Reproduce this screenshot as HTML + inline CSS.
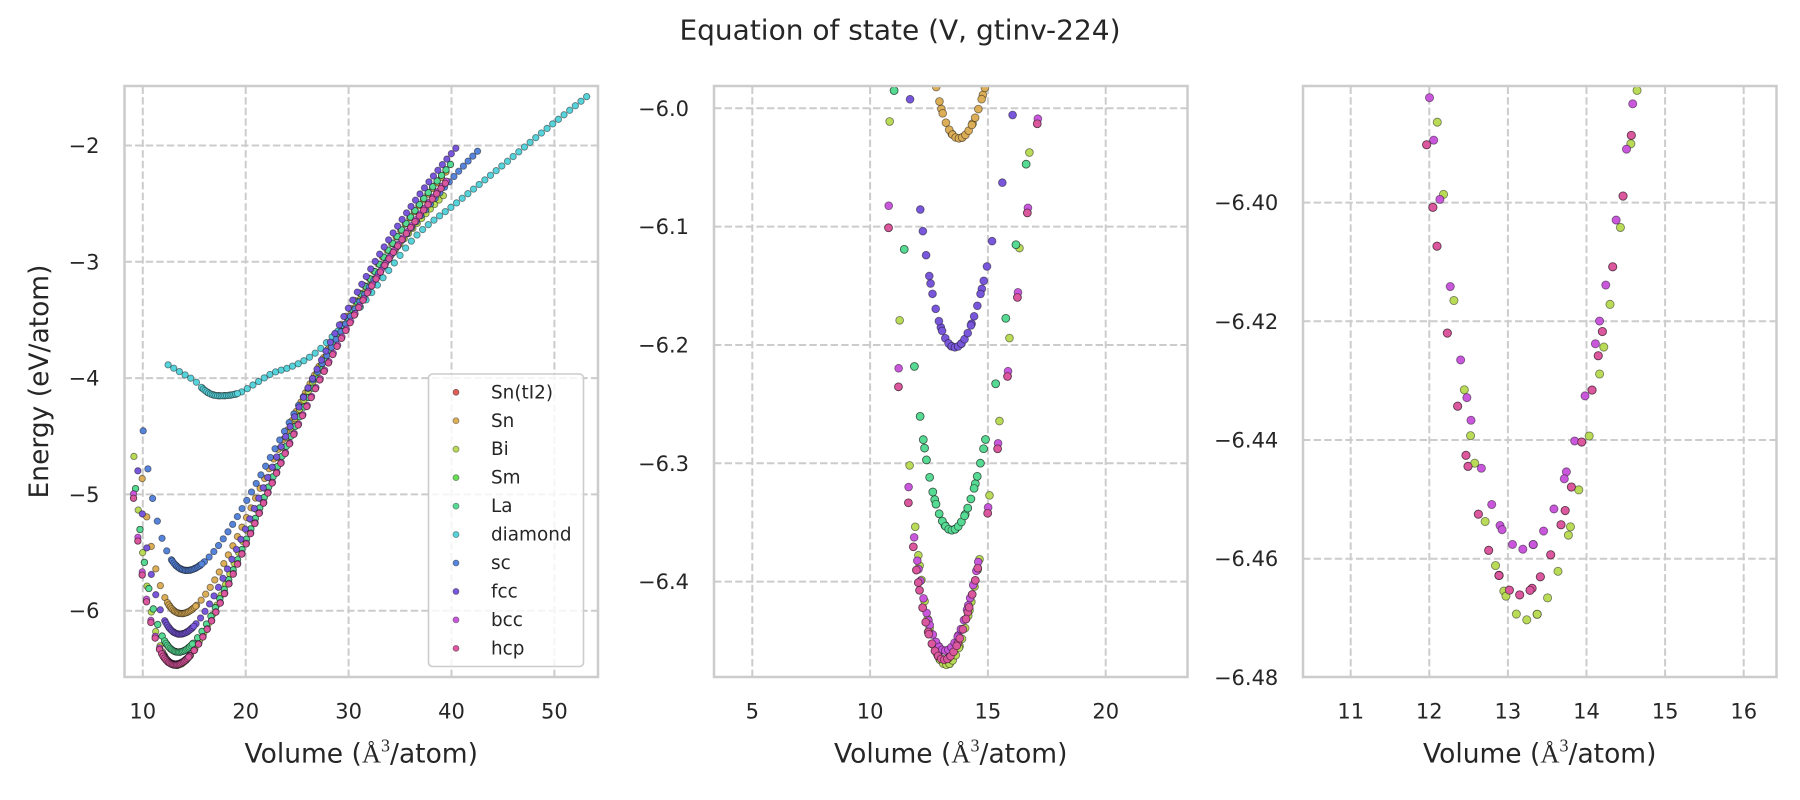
<!DOCTYPE html>
<html>
<head>
<meta charset="utf-8">
<style>
html,body{margin:0;padding:0;background:#fff;}
svg{display:block;}
text{font-family:"DejaVu Sans","Liberation Sans",sans-serif;fill:#262626;}
.ser{font-family:"Liberation Serif","DejaVu Serif",serif;}
</style>
</head>
<body>
<svg id="fig" xmlns="http://www.w3.org/2000/svg" width="1800" height="800" viewBox="0 0 1800 800">
<rect x="0" y="0" width="1800" height="800" fill="#ffffff"/>
<defs>
<clipPath id="c1"><rect x="124.5" y="86" width="473.5" height="591"/></clipPath>
<clipPath id="c2"><rect x="714" y="86" width="473.5" height="591"/></clipPath>
<clipPath id="c3"><rect x="1303" y="86" width="473.5" height="591"/></clipPath>
</defs>

<text x="900" y="39.5" font-size="28" text-anchor="middle">Equation of state (V, gtinv-224)</text>

<!-- ===== Axes 1 grid ===== -->
<g stroke="#cccccc" stroke-width="2" stroke-dasharray="7.4 3.2" fill="none">
<line x1="142.8" y1="677" x2="142.8" y2="86"/>
<line x1="245.7" y1="677" x2="245.7" y2="86"/>
<line x1="348.6" y1="677" x2="348.6" y2="86"/>
<line x1="451.5" y1="677" x2="451.5" y2="86"/>
<line x1="554.4" y1="677" x2="554.4" y2="86"/>
<line x1="124.5" y1="145.5" x2="598" y2="145.5"/>
<line x1="124.5" y1="261.8" x2="598" y2="261.8"/>
<line x1="124.5" y1="378.1" x2="598" y2="378.1"/>
<line x1="124.5" y1="494.4" x2="598" y2="494.4"/>
<line x1="124.5" y1="610.7" x2="598" y2="610.7"/>
</g>
<g id="g1" clip-path="url(#c1)"></g>
<rect x="124.5" y="86" width="473.5" height="591" fill="none" stroke="#cccccc" stroke-width="2.5"/>

<!-- ===== Axes 2 grid ===== -->
<g stroke="#cccccc" stroke-width="2" stroke-dasharray="7.4 3.2" fill="none">
<line x1="752.3" y1="677" x2="752.3" y2="86"/>
<line x1="870.1" y1="677" x2="870.1" y2="86"/>
<line x1="987.9" y1="677" x2="987.9" y2="86"/>
<line x1="1105.7" y1="677" x2="1105.7" y2="86"/>
<line x1="714" y1="108.3" x2="1187.5" y2="108.3"/>
<line x1="714" y1="226.6" x2="1187.5" y2="226.6"/>
<line x1="714" y1="345" x2="1187.5" y2="345"/>
<line x1="714" y1="463.3" x2="1187.5" y2="463.3"/>
<line x1="714" y1="581.6" x2="1187.5" y2="581.6"/>
</g>
<g id="g2" clip-path="url(#c2)"></g>
<rect x="714" y="86" width="473.5" height="591" fill="none" stroke="#cccccc" stroke-width="2.5"/>

<!-- ===== Axes 3 grid ===== -->
<g stroke="#cccccc" stroke-width="2" stroke-dasharray="7.4 3.2" fill="none">
<line x1="1350.7" y1="677" x2="1350.7" y2="86"/>
<line x1="1429.3" y1="677" x2="1429.3" y2="86"/>
<line x1="1507.9" y1="677" x2="1507.9" y2="86"/>
<line x1="1586.5" y1="677" x2="1586.5" y2="86"/>
<line x1="1665.1" y1="677" x2="1665.1" y2="86"/>
<line x1="1743.7" y1="677" x2="1743.7" y2="86"/>
<line x1="1303" y1="202.6" x2="1776.5" y2="202.6"/>
<line x1="1303" y1="321.3" x2="1776.5" y2="321.3"/>
<line x1="1303" y1="440" x2="1776.5" y2="440"/>
<line x1="1303" y1="558.7" x2="1776.5" y2="558.7"/>
</g>
<g id="g3" clip-path="url(#c3)"></g>
<rect x="1303" y="86" width="473.5" height="591" fill="none" stroke="#cccccc" stroke-width="2.5"/>

<!-- ===== Tick labels axes 1 ===== -->
<g font-size="21" text-anchor="end">
<text x="99.5" y="153">−2</text>
<text x="99.5" y="269.3">−3</text>
<text x="99.5" y="385.6">−4</text>
<text x="99.5" y="501.9">−5</text>
<text x="99.5" y="618.2">−6</text>
</g>
<g font-size="21" text-anchor="middle">
<text x="142.8" y="718.5">10</text>
<text x="245.7" y="718.5">20</text>
<text x="348.6" y="718.5">30</text>
<text x="451.5" y="718.5">40</text>
<text x="554.4" y="718.5">50</text>
</g>
<text x="361.25" y="762.5" font-size="26.5" text-anchor="middle">Volume (<tspan class="ser">Å</tspan><tspan class="ser" font-size="18" dy="-11">3</tspan><tspan dy="11">/atom)</tspan></text>
<text transform="translate(48,381.5) rotate(-90)" font-size="26.5" text-anchor="middle">Energy (eV/atom)</text>

<!-- ===== Tick labels axes 2 ===== -->
<g font-size="21" text-anchor="end">
<text x="689" y="115.8">−6.0</text>
<text x="689" y="234.1">−6.1</text>
<text x="689" y="352.5">−6.2</text>
<text x="689" y="470.8">−6.3</text>
<text x="689" y="589.1">−6.4</text>
</g>
<g font-size="21" text-anchor="middle">
<text x="752.3" y="718.5">5</text>
<text x="870.1" y="718.5">10</text>
<text x="987.9" y="718.5">15</text>
<text x="1105.7" y="718.5">20</text>
</g>
<text x="950.75" y="762.5" font-size="26.5" text-anchor="middle">Volume (<tspan class="ser">Å</tspan><tspan class="ser" font-size="18" dy="-11">3</tspan><tspan dy="11">/atom)</tspan></text>

<!-- ===== Tick labels axes 3 ===== -->
<g font-size="21" text-anchor="end">
<text x="1278.3" y="210.1">−6.40</text>
<text x="1278.3" y="328.8">−6.42</text>
<text x="1278.3" y="447.5">−6.44</text>
<text x="1278.3" y="566.2">−6.46</text>
<text x="1278.3" y="684.9">−6.48</text>
</g>
<g font-size="21" text-anchor="middle">
<text x="1350.7" y="718.5">11</text>
<text x="1429.3" y="718.5">12</text>
<text x="1507.9" y="718.5">13</text>
<text x="1586.5" y="718.5">14</text>
<text x="1665.1" y="718.5">15</text>
<text x="1743.7" y="718.5">16</text>
</g>
<text x="1539.75" y="762.5" font-size="26.5" text-anchor="middle">Volume (<tspan class="ser">Å</tspan><tspan class="ser" font-size="18" dy="-11">3</tspan><tspan dy="11">/atom)</tspan></text>

<!-- ===== Legend ===== -->
<rect x="428.5" y="374" width="155" height="292.5" rx="4" ry="4" fill="#ffffff" fill-opacity="0.8" stroke="#cccccc" stroke-width="1.6"/>
<g stroke="#000" stroke-opacity="0.4" stroke-width="0.8">
<circle cx="456" cy="392.3" r="3" fill="#db5f57"/>
<circle cx="456" cy="420.75" r="3" fill="#dbae57"/>
<circle cx="456" cy="449.2" r="3" fill="#b9db57"/>
<circle cx="456" cy="477.65" r="3" fill="#69db57"/>
<circle cx="456" cy="506.1" r="3" fill="#57db94"/>
<circle cx="456" cy="534.55" r="3" fill="#57d3db"/>
<circle cx="456" cy="563" r="3" fill="#5784db"/>
<circle cx="456" cy="591.45" r="3" fill="#7957db"/>
<circle cx="456" cy="619.9" r="3" fill="#c957db"/>
<circle cx="456" cy="648.35" r="3" fill="#db579e"/>
</g>
<g font-size="18.4">
<text x="491" y="398.3">Sn(tI2)</text>
<text x="491" y="426.75">Sn</text>
<text x="491" y="455.2">Bi</text>
<text x="491" y="483.65">Sm</text>
<text x="491" y="512.1">La</text>
<text x="491" y="540.55">diamond</text>
<text x="491" y="569">sc</text>
<text x="491" y="597.45">fcc</text>
<text x="491" y="625.9">bcc</text>
<text x="491" y="654.35">hcp</text>
</g>
</svg>

<script>
(function(){
  var NS = 'http://www.w3.org/2000/svg';
  function vinet(V, s){
    var x = Math.cbrt(V / s.V0);
    var p = V < s.V0 ? s.pl : s.p;
    var A = 2 * s.b * s.V0 / ((p - 1) * (p - 1));
    return s.E0 + A * (2 - (5 + 3 * p * (x - 1) - 3 * x) * Math.exp(-1.5 * (p - 1) * (x - 1)));
  }
  function spline(xs, ys){
    var n = xs.length, d = [], m = [], i;
    for (i = 0; i < n - 1; i++) d.push((ys[i+1] - ys[i]) / (xs[i+1] - xs[i]));
    m[0] = d[0]; m[n-1] = d[n-2];
    for (i = 1; i < n - 1; i++) m[i] = (d[i-1] * d[i] <= 0) ? 0 : (d[i-1] + d[i]) / 2;
    return function(x){
      var i = 0;
      while (i < n - 2 && x > xs[i+1]) i++;
      var h = xs[i+1] - xs[i], t = (x - xs[i]) / h, t2 = t*t, t3 = t2*t;
      return (2*t3 - 3*t2 + 1) * ys[i] + (t3 - 2*t2 + t) * h * m[i] +
             (-2*t3 + 3*t2) * ys[i+1] + (t3 - t2) * h * m[i+1];
    };
  }
  var dV = [12.46,13.7,15.12,15.95,16.6,17.45,18.4,19.45,21.0,22.62,24.07,25.53,27.15,28.28,29.41,30.38,33.5,36.53,40.4,44.4,48.5,53.11];
  var dE = [-3.886,-3.952,-4.029,-4.10,-4.137,-4.152,-4.148,-4.125,-4.043,-3.957,-3.914,-3.857,-3.757,-3.656,-3.556,-3.47,-3.12,-2.78,-2.50,-2.212,-1.91,-1.582];
  var dfun = spline(dV, dE);

  var hcp = {E0:-6.4661, V0:13.15, b:1.2, p:4, pl:4.5, rmin:0.692, rmax:2.99, step:0.032};
  var La  = {E0:-6.3565, V0:13.47, b:1.2, p:4, pl:4.0, rmin:0.69, rmax:2.955, step:0.032};
  var series = [
    ['#db5f57', hcp],
    ['#dbae57', {E0:-6.0254, V0:13.77, b:1.1, p:4, pl:5.5, rmin:0.722, rmax:2.88, step:0.032}],
    ['#b9db57', {E0:-6.4703, V0:13.24, b:1.45, p:4.6, pl:4.6, rmin:0.69, rmax:2.95, step:0.032}],
    ['#69db57', La],
    ['#57db94', La],
    ['#57d3db', {fn:dfun, V0:17.45, rmin:0.714, rmax:3.044, step:0.0315}],
    ['#5784db', {E0:-5.654, V0:14.3, b:0.9, p:3.8, pl:5.5, rmin:0.702, rmax:2.965, step:0.032}],
    ['#7957db', {E0:-6.202, V0:13.6, b:1.18, p:4, pl:4.8, rmin:0.70, rmax:2.96, step:0.032}],
    ['#c957db', {E0:-6.4584, V0:13.19, b:1.2, p:4, pl:4.5, rmin:0.69, rmax:2.98, step:0.032}],
    ['#db579e', hcp]
  ];
  function pts(s){
    var out = [], k, V, f = s.fn ? s.fn : function(v){ return vinet(v, s); };
    var n = Math.round((s.rmax - s.rmin) / s.step);
    for (k = 0; k <= n; k++){ V = s.V0 * (s.rmin + k * s.step); out.push([V, f(V)]); }
    for (k = -10; k <= 10; k++){ V = s.V0 * (1 + 0.01 * k); out.push([V, f(V)]); }
    return out;
  }
  var axes = [
    {id:'g1', x0:124.5, x1:598, y0:86, y1:677, r:3.2,
     px:function(V){return 142.8 + (V - 10) * 10.29;}, py:function(E){return 145.5 + (-2 - E) * 116.3;}},
    {id:'g2', x0:714, x1:1187.5, y0:86, y1:677, r:3.9,
     px:function(V){return 870.1 + (V - 10) * 23.56;}, py:function(E){return 108.3 + (-6.0 - E) * 1183.3;}},
    {id:'g3', x0:1303, x1:1776.5, y0:86, y1:677, r:4.1,
     px:function(V){return 1350.7 + (V - 11) * 78.6;}, py:function(E){return 202.6 + (-6.40 - E) * 5935;}}
  ];
  var data = series.map(function(s){ return [s[0], pts(s[1])]; });
  axes.forEach(function(ax){
    var g = document.getElementById(ax.id);
    data.forEach(function(sd){
      var grp = document.createElementNS(NS, 'g');
      grp.setAttribute('fill', sd[0]);
      grp.setAttribute('stroke', '#000');
      grp.setAttribute('stroke-opacity', '0.45');
      grp.setAttribute('stroke-width', '0.9');
      sd[1].forEach(function(p){
        var x = ax.px(p[0]), y = ax.py(p[1]);
        if (x < ax.x0 - 6 || x > ax.x1 + 6 || y < ax.y0 - 6 || y > ax.y1 + 6) return;
        var c = document.createElementNS(NS, 'circle');
        c.setAttribute('cx', x.toFixed(2));
        c.setAttribute('cy', y.toFixed(2));
        c.setAttribute('r', ax.r);
        grp.appendChild(c);
      });
      g.appendChild(grp);
    });
  });
})();
</script>
</body>
</html>
